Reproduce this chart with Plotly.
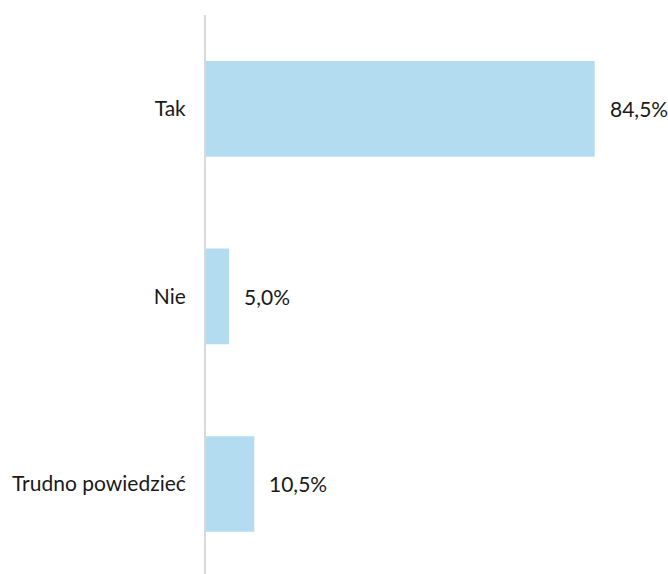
import plotly.graph_objects as go

categories = ["Tak", "Nie", "Trudno powiedzieć"]
values = [84.5, 5.0, 10.5]
labels = ["84,5%", "5,0%", "10,5%"]

bar_color = "#B4DCF0"
font_family = "Lato, 'Open Sans', sans-serif"

fig = go.Figure()
fig.add_trace(go.Bar(
    x=values, y=categories, orientation="h",
    marker=dict(color=bar_color, line=dict(width=0)),
    hoverinfo="skip",
))

for c, v, t in zip(categories, values, labels):
    fig.add_annotation(x=v, y=c, text=t, showarrow=False, xanchor="left",
                       xshift=13, font=dict(size=21, color="#1a1a1a", family=font_family))

fig.update_layout(
    width=668, height=574,
    margin=dict(l=206, r=2, t=15, b=0),
    paper_bgcolor="white", plot_bgcolor="white",
    bargap=0.49,
    showlegend=False,
    font=dict(family=font_family, size=21, color="#1a1a1a"),
)
fig.update_xaxes(range=[0, 100], visible=False, showgrid=False, zeroline=False)
fig.update_yaxes(
    categoryorder="array", categoryarray=categories,
    range=[2.48, -0.5],
    showline=True, linecolor="#D9D9D9", linewidth=2,
    showgrid=False, zeroline=False, ticks="", ticklabelstandoff=14,
    tickfont=dict(size=21, family=font_family, color="#1a1a1a"),
)

fig.write_html(
    "out.html",
    config={"displayModeBar": False, "staticPlot": True},
    post_script="document.body.style.margin='0';document.body.style.overflow='hidden';",
)
